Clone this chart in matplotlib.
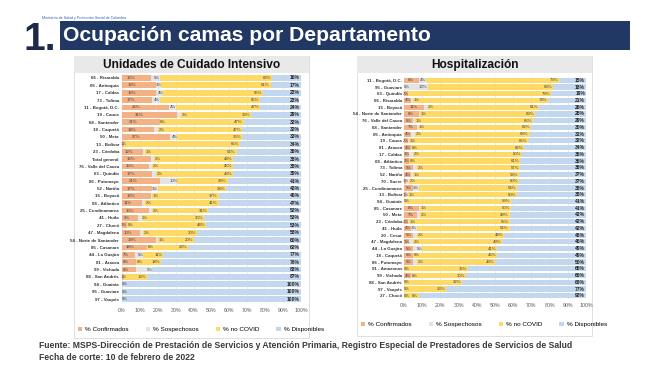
import numpy as np
import matplotlib
matplotlib.use("Agg")
import matplotlib.pyplot as plt
from matplotlib.patches import Rectangle

plt.rcParams['font.family'] = ['Liberation Sans', 'DejaVu Sans']

# ---------------- datos: UCI ----------------
uci_deptos = ["66 - Risaralda", "05 - Antioquia", "17 - Caldas", "73 - Tolima", "11 - Bogotá, D.C.",
              "19 - Cauca", "68 - Santander", "18 - Caquetá", "50 - Meta", "13 - Bolívar",
              "23 - Córdoba", "Total general", "76 - Valle del Cauca", "63 - Quindío", "86 - Putumayo",
              "52 - Nariño", "15 - Boyacá", "08 - Atlántico", "25 - Cundinamarca", "41 - Huila",
              "27 - Chocó", "47 - Magdalena", "54 - Norte de Santander", "85 - Casanare", "44 - La Guajira",
              "81 - Arauca", "99 - Vichada", "88 - San Andrés", "94 - Guainía", "95 - Guaviare",
              "97 - Vaupés"]
uci_conf = [16, 19, 19, 17, 26, 31, 21, 18, 27, 1, 12, 16, 15, 17, 21, 17, 16, 11, 15, 9, 3, 10, 19, 14, 7, 8, 8, 1, 0, 0, 0]
uci_sosp = [5, 3, 4, 4, 4, 2, 0, 2, 4, 0, 1, 2, 2, 2, 10, 3, 1, 2, 2, 2, 0, 2, 1, 0, 5, 0, 9, 0, 0, 0, 0]
uci_nocovid = [63, 61, 56, 56, 47, 39, 47, 47, 36, 65, 51, 44, 45, 43, 28, 38, 37, 41, 31, 35, 44, 30, 20, 23, 11, 14, 0, 13, 0, 0, 0]
uci_disp = [16, 17, 22, 22, 24, 29, 32, 32, 33, 34, 36, 38, 38, 39, 41, 43, 46, 47, 52, 53, 53, 58, 60, 62, 77, 78, 83, 87, 100, 100, 100]

# ---------------- datos: Hospitalización ----------------
hosp_deptos = ["11 - Bogotá, D.C.", "95 - Guaviare", "63 - Quindío", "66 - Risaralda", "15 - Boyacá",
               "54 - Norte de Santander", "76 - Valle del Cauca", "68 - Santander", "05 - Antioquia", "19 - Cauca",
               "81 - Arauca", "17 - Caldas", "08 - Atlántico", "73 - Tolima", "52 - Nariño",
               "70 - Sucre", "25 - Cundinamarca", "13 - Bolívar", "94 - Guainía", "85 - Casanare",
               "50 - Meta", "23 - Córdoba", "41 - Huila", "20 - Cesar", "47 - Magdalena",
               "44 - La Guajira", "18 - Caquetá", "86 - Putumayo", "91 - Amazonas", "99 - Vichada",
               "88 - San Andrés", "97 - Vaupés", "27 - Chocó"]
hosp_conf = [8, 0, 2, 4, 11, 8, 5, 7, 4, 2, 4, 3, 3, 5, 4, 1, 5, 1, 0, 8, 7, 2, 4, 5, 3, 5, 5, 5, 0, 4, 0, 0, 0]
hosp_sosp = [4, 13, 0, 1, 2, 1, 1, 1, 2, 1, 0, 2, 0, 2, 1, 2, 3, 1, 0, 1, 2, 1, 3, 2, 2, 5, 0, 2, 0, 0, 0, 0, 0]
hosp_nocovid = [73, 69, 79, 74, 61, 63, 65, 62, 63, 65, 62, 60, 61, 57, 58, 60, 54, 60, 59, 50, 49, 55, 51, 48, 49, 41, 46, 43, 35, 30, 32, 23, 8]
hosp_disp = [15, 18, 19, 21, 26, 28, 29, 30, 31, 32, 34, 35, 36, 36, 37, 37, 38, 38, 41, 41, 42, 42, 42, 45, 46, 49, 49, 50, 65, 66, 68, 77, 92]

series = ["% Confirmados", "% Sospechosos", "% no COVID", "% Disponibles"]
colores = ["#F4B183", "#E4E4E4", "#FFD966", "#C3D7EE"]

W, H = 652, 365
fig = plt.figure(figsize=(W / 100, H / 100), dpi=100)


def fx(x):
    return x / W


def fy(y):
    return 1 - y / H


def caja(x0, y0, x1, y1, **kw):
    fig.patches.append(Rectangle((fx(x0), fy(y1)), fx(x1) - fx(x0), (y1 - y0) / H,
                                 transform=fig.transFigure, zorder=-5, **kw))


# encabezado
caja(60, 21, 630, 50, facecolor="#213864", edgecolor="none")
fig.text(fx(24), fy(50), "1.", fontsize=28, fontweight="bold", color="#1c2a4a", va="baseline")
fig.text(fx(63), fy(35.5), "Ocupación camas por Departamento", fontsize=15.2, fontweight="bold",
         color="white", va="center")
fig.text(fx(42), fy(17.5), "Ministerio de Salud y Protección Social de Colombia", fontsize=2.6,
         color="#2b5cb8", va="center")

# pie
fig.text(fx(39), fy(345), "Fuente: MSPS-Dirección de Prestación de Servicios y Atención Primaria, "
         "Registro Especial de Prestadores de Servicios de Salud", fontsize=6.2, fontweight="bold",
         color="#3a3a3a", va="center")
fig.text(fx(39), fy(357), "Fecha de corte: 10 de febrero de 2022", fontsize=6.2, fontweight="bold",
         color="#3a3a3a", va="center")


def panel(x0, x1, y1, titulo):
    caja(x0, 56, x1, y1, facecolor="white", edgecolor="#d9d9d9", linewidth=0.6)
    caja(x0, 56, x1, 73, facecolor="#e9e9e9", edgecolor="none")
    fig.text(fx((x0 + x1) / 2), fy(65), titulo, fontsize=8.6, fontweight="bold",
             color="#111111", ha="center", va="center")


def grafico(ax, deptos, conf, sosp, nocovid, disp, frac_conf, ypad, xpad, leg_x, leg_y):
    n = len(deptos)
    y = np.arange(n)
    conf = np.array(conf)
    sosp = np.array(sosp)
    nocovid = np.array(nocovid)
    disp = np.array(disp)
    ax.patch.set_alpha(0)
    ax.set_axisbelow(True)
    ax.grid(axis="x", color="#e3e3e3", linewidth=0.5)
    h = []
    h.append(ax.barh(y, conf, height=0.78, color=colores[0]))
    h.append(ax.barh(y, sosp, left=conf, height=0.78, color=colores[1]))
    h.append(ax.barh(y, nocovid, left=conf + sosp, height=0.78, color=colores[2]))
    h.append(ax.barh(y, disp, left=conf + sosp + nocovid, height=0.78, color=colores[3]))

    kw = dict(fontsize=3.1, color="#404040", va="center")
    for i in range(n):
        if conf[i] > 0:
            ax.text(max(conf[i] * frac_conf, 0.9), i, f"{conf[i]}%", ha="center", **kw)
            # sospechosos: solo si no se pisa con la etiqueta de confirmados
            if sosp[i] > 0 or conf[i] >= 3:
                ax.text(conf[i] + sosp[i] + 0.3, i, f"{sosp[i]}%",
                        ha="right" if sosp[i] >= 3 else "left", **kw)
        elif sosp[i] > 0:
            ax.text(0.2, i, "0%", ha="left", **kw)
            ax.text(sosp[i] - 0.3, i, f"{sosp[i]}%", ha="right", **kw)
        else:
            ax.text(0.2, i, "0%", ha="left", **kw)
        if nocovid[i] > 0:
            ax.text(conf[i] + sosp[i] + nocovid[i] - 0.5, i, f"{nocovid[i]}%", ha="right", **kw)
        ax.text(99.5, i, f"{disp[i]}%", ha="right", va="center", fontsize=3.6,
                fontweight="bold", color="#222222")

    ax.set_xlim(0, 100)
    ax.set_ylim(n - 0.5, -0.5)
    ax.set_yticks(y)
    ax.set_yticklabels(deptos, fontsize=3.2, fontweight="bold", color="#333333")
    ax.set_xticks(np.arange(0, 101, 10))
    ax.set_xticklabels([f"{v}%" for v in range(0, 101, 10)], fontsize=3.8, color="#595959")
    ax.tick_params(axis="y", length=0, pad=ypad)
    ax.tick_params(axis="x", length=0, pad=xpad)
    for s in ax.spines.values():
        s.set_visible(False)
    ax.legend(h, series, loc="center", bbox_to_anchor=(fx(leg_x), fy(leg_y)),
              bbox_transform=fig.transFigure, ncol=4, frameon=False, fontsize=4.6,
              handlelength=0.7, handleheight=0.7, columnspacing=2.6, handletextpad=0.5)


# panel UCI
panel(74, 309, 338, "Unidades de Cuidado Intensivo")
ax1 = fig.add_axes([fx(122), fy(302.7), fx(301) - fx(122), (302.7 - 74.3) / H])
grafico(ax1, uci_deptos, uci_conf, uci_sosp, uci_nocovid, uci_disp, 0.3, 2.2, 3.6, 201, 329.3)

# panel Hospitalización
panel(357, 592, 336, "Hospitalización")
ax2 = fig.add_axes([fx(404), fy(299.1), fx(586) - fx(404), (299.1 - 76.9) / H])
grafico(ax2, hosp_deptos, hosp_conf, hosp_sosp, hosp_nocovid, hosp_disp, 0.5, 1.5, 2.6, 484, 324.3)

fig.savefig("out.png", dpi=100)
